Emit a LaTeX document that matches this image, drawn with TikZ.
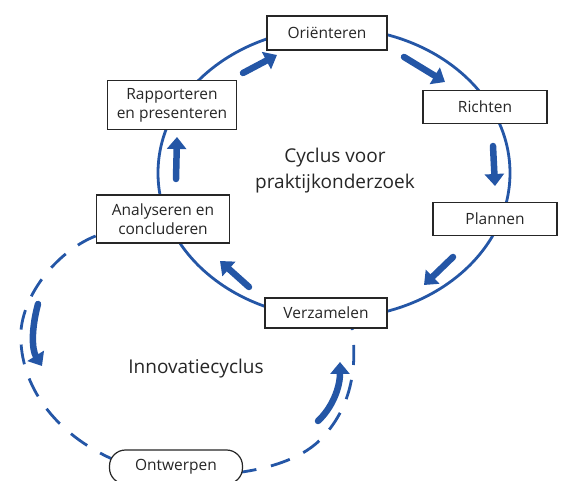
\documentclass[tikz,border=0pt]{standalone}
\usepackage{fontspec}
\setmainfont{Open Sans}
\usetikzlibrary{arrows.meta}
\pgfdeclarelayer{background}
\pgfsetlayers{background,main}
\definecolor{cycblue}{RGB}{36,86,166}
\tikzset{
  box/.style={draw=black!85, line width=1.7pt, fill=white, font=\fontsize{15.5}{19}\selectfont, align=center, inner sep=0pt, text=black!85},
  ring/.style={draw=cycblue, line width=2.8pt},
  dashring/.style={draw=cycblue, line width=2.8pt, dash pattern=on 20pt off 15pt},
  flow/.style={draw=cycblue, line width=6.5pt, line cap=round, -{Triangle[length=12pt,width=19pt]}},
  title/.style={font=\fontsize{19}{26}\selectfont, align=center, text=black!85}
}
\begin{document}
\begin{tikzpicture}[x=1pt,y=-1pt]
\useasboundingbox (0,0) rectangle (571,481);
\begin{scope}
\clip (0,0) rectangle (571,481);
\node[box, minimum width=120pt, minimum height=34pt] (ori) at (327,33) {Oriënteren};
\node[box, minimum width=124pt, minimum height=33pt] (ric) at (485,107) {Richten};
\node[box, minimum width=124pt, minimum height=33pt] (pla) at (495,219) {Plannen};
\node[box, minimum width=122pt, minimum height=30pt] (ver) at (326,313) {Verzamelen};
\node[box, minimum width=133pt, minimum height=48pt] (ana) at (163,219) {Analyseren en\\concluderen};
\node[box, minimum width=129pt, minimum height=49pt] (rap) at (172,105) {Rapporteren\\en presenteren};
\node[box, line width=1.2pt, minimum width=133pt, minimum height=34pt, rounded corners=16pt] (ont) at (176,467) {Ontwerpen};
\node[title] (cyc) at (335,171) {Cyclus voor\\praktijkonderzoek};
\node[title] (inn) at (196,369) {Innovatiecyclus};
\begin{pgfonlayer}{background}
\draw[ring] (334,173) ellipse [x radius=176pt, y radius=145pt];
\draw[dashring] (ana.west |- 0,236) .. controls (60,250) and (25,290) .. (21,330)
  .. controls (18,380) and (50,430) .. (110,458)
  .. controls (170,485) and (280,480) .. (320,440)
  .. controls (350,410) and (358,370) .. (352,328) -- (ver.south -| 352,0);
\end{pgfonlayer}
\coordinate (a1s) at (243,73); \coordinate (a1e) at (277,55);
\coordinate (a2s) at (404,57); \coordinate (a2e) at (445,82);
\coordinate (a3s) at (493,146); \coordinate (a3e) at (495,186);
\coordinate (a4s) at (453,257); \coordinate (a4e) at (424,285);
\coordinate (a5s) at (249,287); \coordinate (a5e) at (220,261);
\coordinate (a6s) at (176,179); \coordinate (a6e) at (177,137);
\coordinate (a7s) at (38,304); \coordinate (a7e) at (42,366);
\coordinate (a8s) at (318,421); \coordinate (a8e) at (340,362);
\draw[flow] (a1s) -- (a1e);
\draw[flow] (a2s) -- (a2e);
\draw[flow] (a3s) -- (a3e);
\draw[flow] (a4s) -- (a4e);
\draw[flow] (a5s) -- (a5e);
\draw[flow] (a6s) -- (a6e);
\draw[flow] (a7s) .. controls (31,330) and (32,350) .. (a7e);
\draw[flow] (a8s) .. controls (332,408) and (340,388) .. (a8e);
\end{scope}
\end{tikzpicture}
\end{document}
